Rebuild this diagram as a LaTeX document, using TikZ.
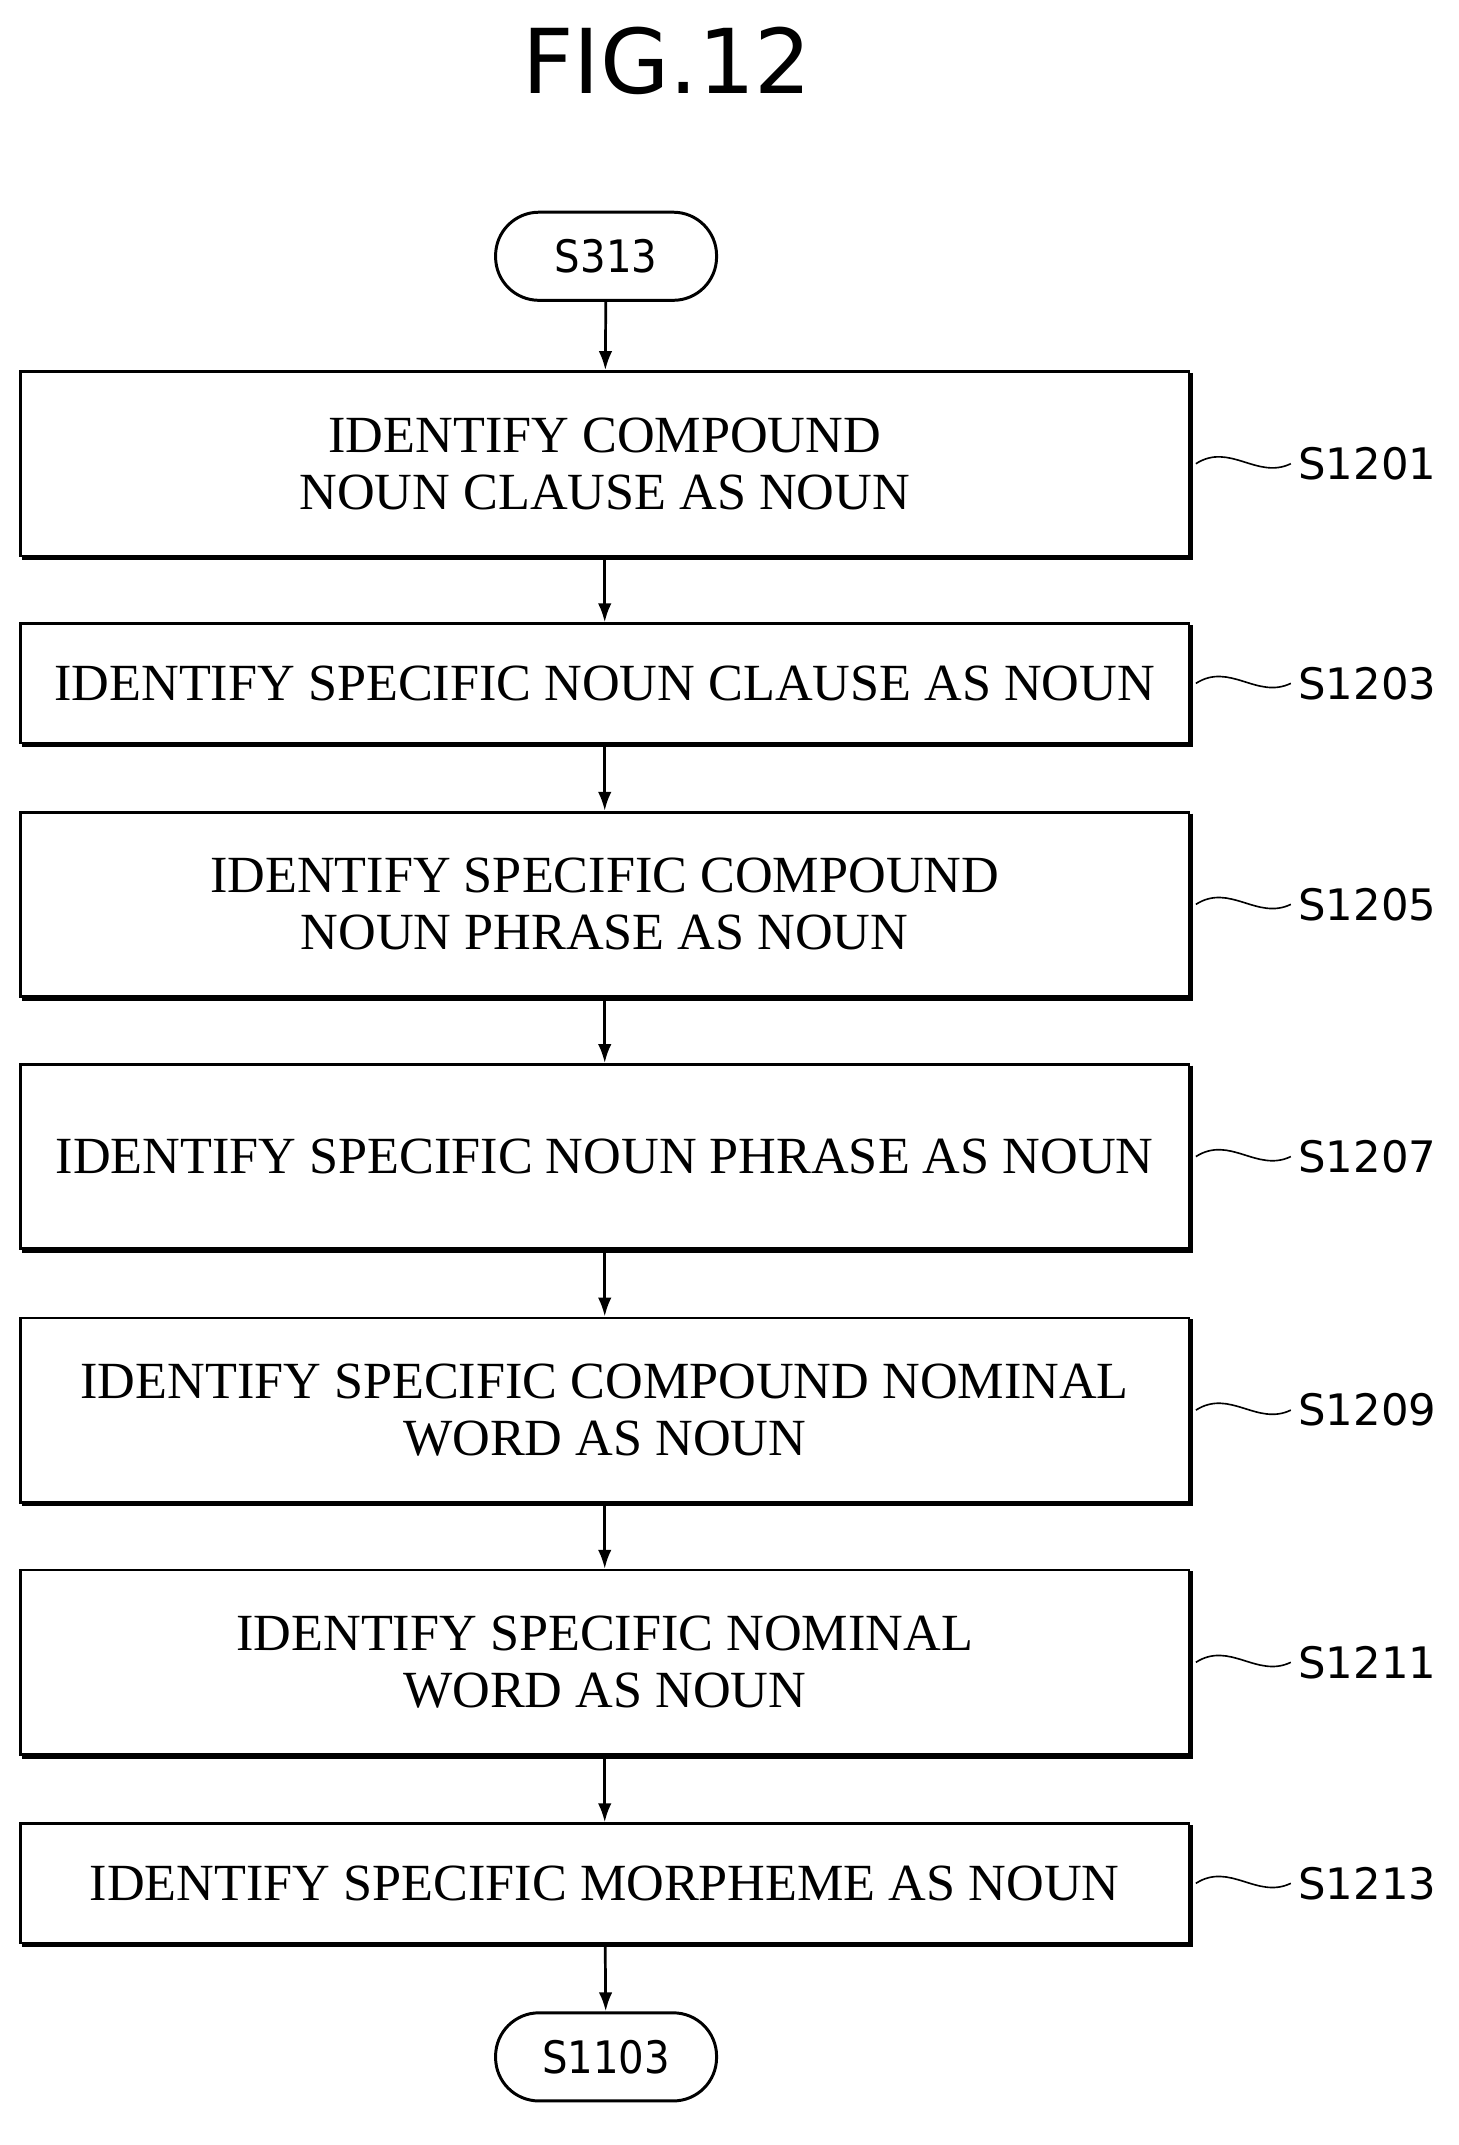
\documentclass[tikz,border=0pt]{standalone}
\usepackage{fontspec}
\setmainfont{Liberation Serif}
\newfontfamily\lab{DejaVu Sans}
\newfontfamily\cond{DejaVu Sans Condensed}
\begin{document}
\begin{tikzpicture}[x=1pt,y=-1pt,
  box/.style={draw,line width=2pt,minimum width=862pt,align=center,font=\fontsize{38.5}{42}\selectfont,inner sep=0pt},
  term/.style={draw,line width=2.2pt,rounded corners=32pt,minimum width=163pt,minimum height=65pt,font=\cond\fontsize{33}{36}\selectfont},
  arr/.style={line width=2pt,-{Latex[length=14pt,width=10pt]}},
  lbl/.style={font=\lab\fontsize{32}{36}\selectfont,anchor=west},
  sq/.style={line width=1.2pt}]
\usetikzlibrary{arrows.meta}
\useasboundingbox (0,0) rectangle (1076,1582);
\node[font=\lab\fontsize{66}{70}\selectfont] (title) at (492,45) {FIG.12};
\node[term] (t0) at (447,189) {S313};
\def\bx#1#2#3#4#5{%
  \node[box,minimum height=#3pt] (#1) at (446,#2) {#4};
  \draw[line width=4pt] ([yshift=-2pt]#1.north east) -- ([yshift=0pt]#1.south east) -- ([xshift=2pt]#1.south west);
  \coordinate (#1l) at (#1.east |- 0,#2);
  \draw[sq] ([xshift=4pt]#1l) .. controls +(25,-16) and +(-25,12) .. ++(70,0) coordinate (#1e);
  \node[lbl] (#1t) at ([xshift=2pt]#1e) {#5};}
\bx{b1}{342}{136}{IDENTIFY COMPOUND\\NOUN CLAUSE AS NOUN}{S1201}
\bx{b2}{504}{88}{IDENTIFY SPECIFIC NOUN CLAUSE AS NOUN}{S1203}
\bx{b3}{667}{136}{IDENTIFY SPECIFIC COMPOUND\\NOUN PHRASE AS NOUN}{S1205}
\bx{b4}{853}{136}{IDENTIFY SPECIFIC NOUN PHRASE AS NOUN}{S1207}
\bx{b5}{1040}{136}{IDENTIFY SPECIFIC COMPOUND NOMINAL\\WORD AS NOUN}{S1209}
\bx{b6}{1226}{136}{IDENTIFY SPECIFIC NOMINAL\\WORD AS NOUN}{S1211}
\bx{b7}{1389}{88}{IDENTIFY SPECIFIC MORPHEME AS NOUN}{S1213}
\node[term] (t1) at (447,1517) {S1103};
\draw[arr] (t0) -- (b1);
\draw[arr] (b1) -- (b2);
\draw[arr] (b2) -- (b3);
\draw[arr] (b3) -- (b4);
\draw[arr] (b4) -- (b5);
\draw[arr] (b5) -- (b6);
\draw[arr] (b6) -- (b7);
\draw[arr] (b7) -- (t1);
\end{tikzpicture}
\end{document}
